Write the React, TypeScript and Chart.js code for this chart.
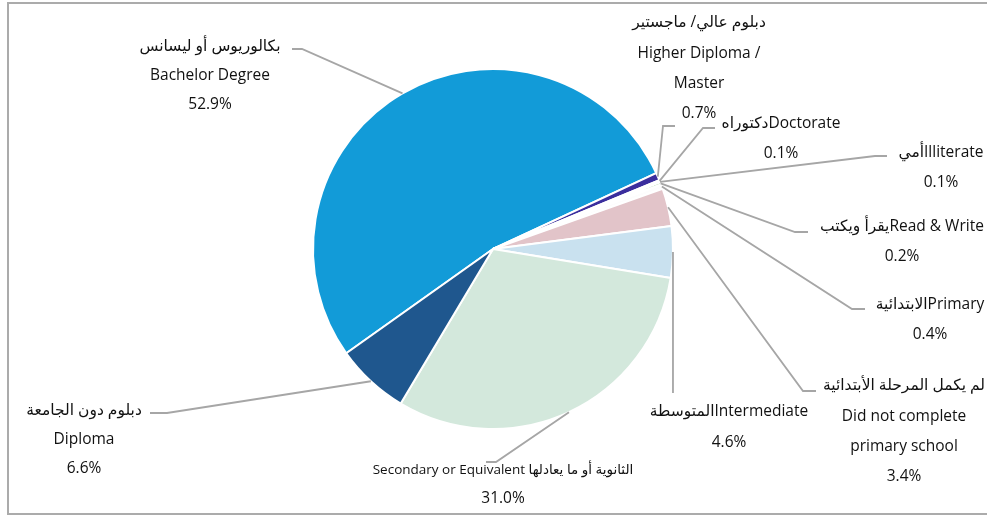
import React, { useEffect, useRef } from "react";
import { Chart, registerables } from "chart.js";

Chart.register(...registerables);

// ---------- data ----------
const categoriesAr = [
  "بكالوريوس أو ليسانس",
  "دبلوم عالي/ ماجستير",
  "دكتوراه",
  "أمي",
  "يقرأ ويكتب",
  "الابتدائية",
  "لم يكمل المرحلة الأبتدائية",
  "المتوسطة",
  "الثانوية أو ما يعادلها",
  "دبلوم دون الجامعة",
];
const categoriesEn = [
  "Bachelor Degree",
  "Higher Diploma /\nMaster",
  "Doctorate",
  "Illiterate",
  "Read & Write",
  "Primary",
  "Did not complete\nprimary school",
  "Intermediate",
  "Secondary or Equivalent",
  "Diploma",
];
const shares = [52.9, 0.7, 0.1, 0.1, 0.2, 0.4, 3.4, 4.6, 31.0, 6.6];
const sliceColors = [
  "#129bd8",
  "#3b2e9d",
  "#ffffff",
  "#fcfcfc",
  "#4ea43a",
  "#fdfdfd",
  "#e2c4c9",
  "#c9e1ef",
  "#d3e8dc",
  "#1f578e",
];

// how each label is composed (0 = Arabic on its own line, 1 = Arabic + English inline, 2 = English then Arabic inline)
const labelStyle = [0, 0, 1, 1, 1, 1, 0, 1, 2, 0];

// ---------- label placement (annotation layout, not data) ----------
const labelLayout = [
  { cx: 210, y0: 47, gap: 28.7, path: [[302, 49], [292, 49]] },
  { cx: 699, y0: 23, gap: 30.3, path: [[663, 126], [675, 126]] },
  { cx: 781, y0: 124, gap: 30, path: [[703, 128], [715, 128]] },
  { cx: 941, y0: 153, gap: 30, path: [[875, 156], [887, 156]] },
  { cx: 902, y0: 227, gap: 30, path: [[795, 232], [808, 232]] },
  { cx: 930, y0: 305, gap: 30, path: [[852, 309], [865, 309]] },
  { cx: 904, y0: 386, gap: 30.3, path: [[803, 391], [816, 391]] },
  { cx: 729, y0: 412, gap: 31, path: [[673, 393]] },
  { cx: 503, y0: 470, gap: 29, path: [[496, 462], [486, 462]] },
  { cx: 84, y0: 411, gap: 29, path: [[167, 413], [150, 413]] },
];

const pct = (v: number) => v.toFixed(1) + "%";

function buildLines(i: number): string[] {
  const en = categoriesEn[i].split("\n");
  const ar = categoriesAr[i];
  const s = labelStyle[i];
  if (s === 0) return [ar, ...en, pct(shares[i])];
  if (s === 1) return [ar + en.join(" "), pct(shares[i])];
  return [en.join(" ") + " " + ar, pct(shares[i])];
}

const FONT_FAMILY = '"Open Sans", "DejaVu Sans", sans-serif';

const outLabels = {
  id: "outLabels",
  beforeDraw(chart: any) {
    const ctx = chart.ctx;
    ctx.save();
    ctx.strokeStyle = "#ababab";
    ctx.lineWidth = 2;
    ctx.beginPath();
    ctx.moveTo(1200, 3);
    ctx.lineTo(8, 3);
    ctx.lineTo(8, 514);
    ctx.lineTo(1200, 514);
    ctx.stroke();
    ctx.restore();
  },
  afterDatasetsDraw(chart: any) {
    const ctx = chart.ctx;
    const meta = chart.getDatasetMeta(0);
    ctx.save();
    meta.data.forEach((arc: any, i: number) => {
      const p = arc.getProps(["x", "y", "startAngle", "endAngle", "outerRadius"], true);
      const mid = (p.startAngle + p.endAngle) / 2;
      const sx = p.x + Math.cos(mid) * p.outerRadius;
      const sy = p.y + Math.sin(mid) * p.outerRadius;
      const lay = labelLayout[i];
      ctx.strokeStyle = "#a6a6a6";
      ctx.lineWidth = 1.8;
      ctx.beginPath();
      ctx.moveTo(sx, sy);
      lay.path.forEach(([x, y]) => ctx.lineTo(x, y));
      ctx.stroke();

      const lines = buildLines(i);
      ctx.fillStyle = "#111111";
      ctx.textAlign = "center";
      ctx.textBaseline = "middle";
      ctx.direction = "ltr";
      lines.forEach((t, k) => {
        const small = labelStyle[i] === 2 && k === 0;
        ctx.font = `${small ? 13.5 : 15.5}px ${FONT_FAMILY}`;
        ctx.fillText(t, lay.cx, lay.y0 + k * lay.gap);
      });
    });
    ctx.restore();
  },
};

export default function App() {
  const ref = useRef<HTMLCanvasElement | null>(null);
  useEffect(() => {
    if (!ref.current) return;
    const chart = new Chart(ref.current, {
      type: "pie",
      data: {
        labels: categoriesEn,
        datasets: [
          {
            data: shares,
            backgroundColor: sliceColors,
            borderColor: "#ffffff",
            borderWidth: 2,
            radius: 180,
          } as any,
        ],
      },
      options: {
        responsive: false,
        devicePixelRatio: 1,
        animation: false,
        rotation: 234.6,
        layout: { padding: { left: 300, right: 301, top: 60, bottom: 80 } },
        plugins: {
          legend: { display: false },
          tooltip: { enabled: false },
        },
      } as any,
      plugins: [outLabels],
    });
    return () => chart.destroy();
  }, []);
  return (
    <div
      style={{
        position: "fixed",
        left: 0,
        top: 0,
        width: 987,
        height: 518,
        overflow: "hidden",
        background: "#ffffff",
      }}
    >
      <canvas ref={ref} width={987} height={518} style={{ display: "block" }} />
    </div>
  );
}
